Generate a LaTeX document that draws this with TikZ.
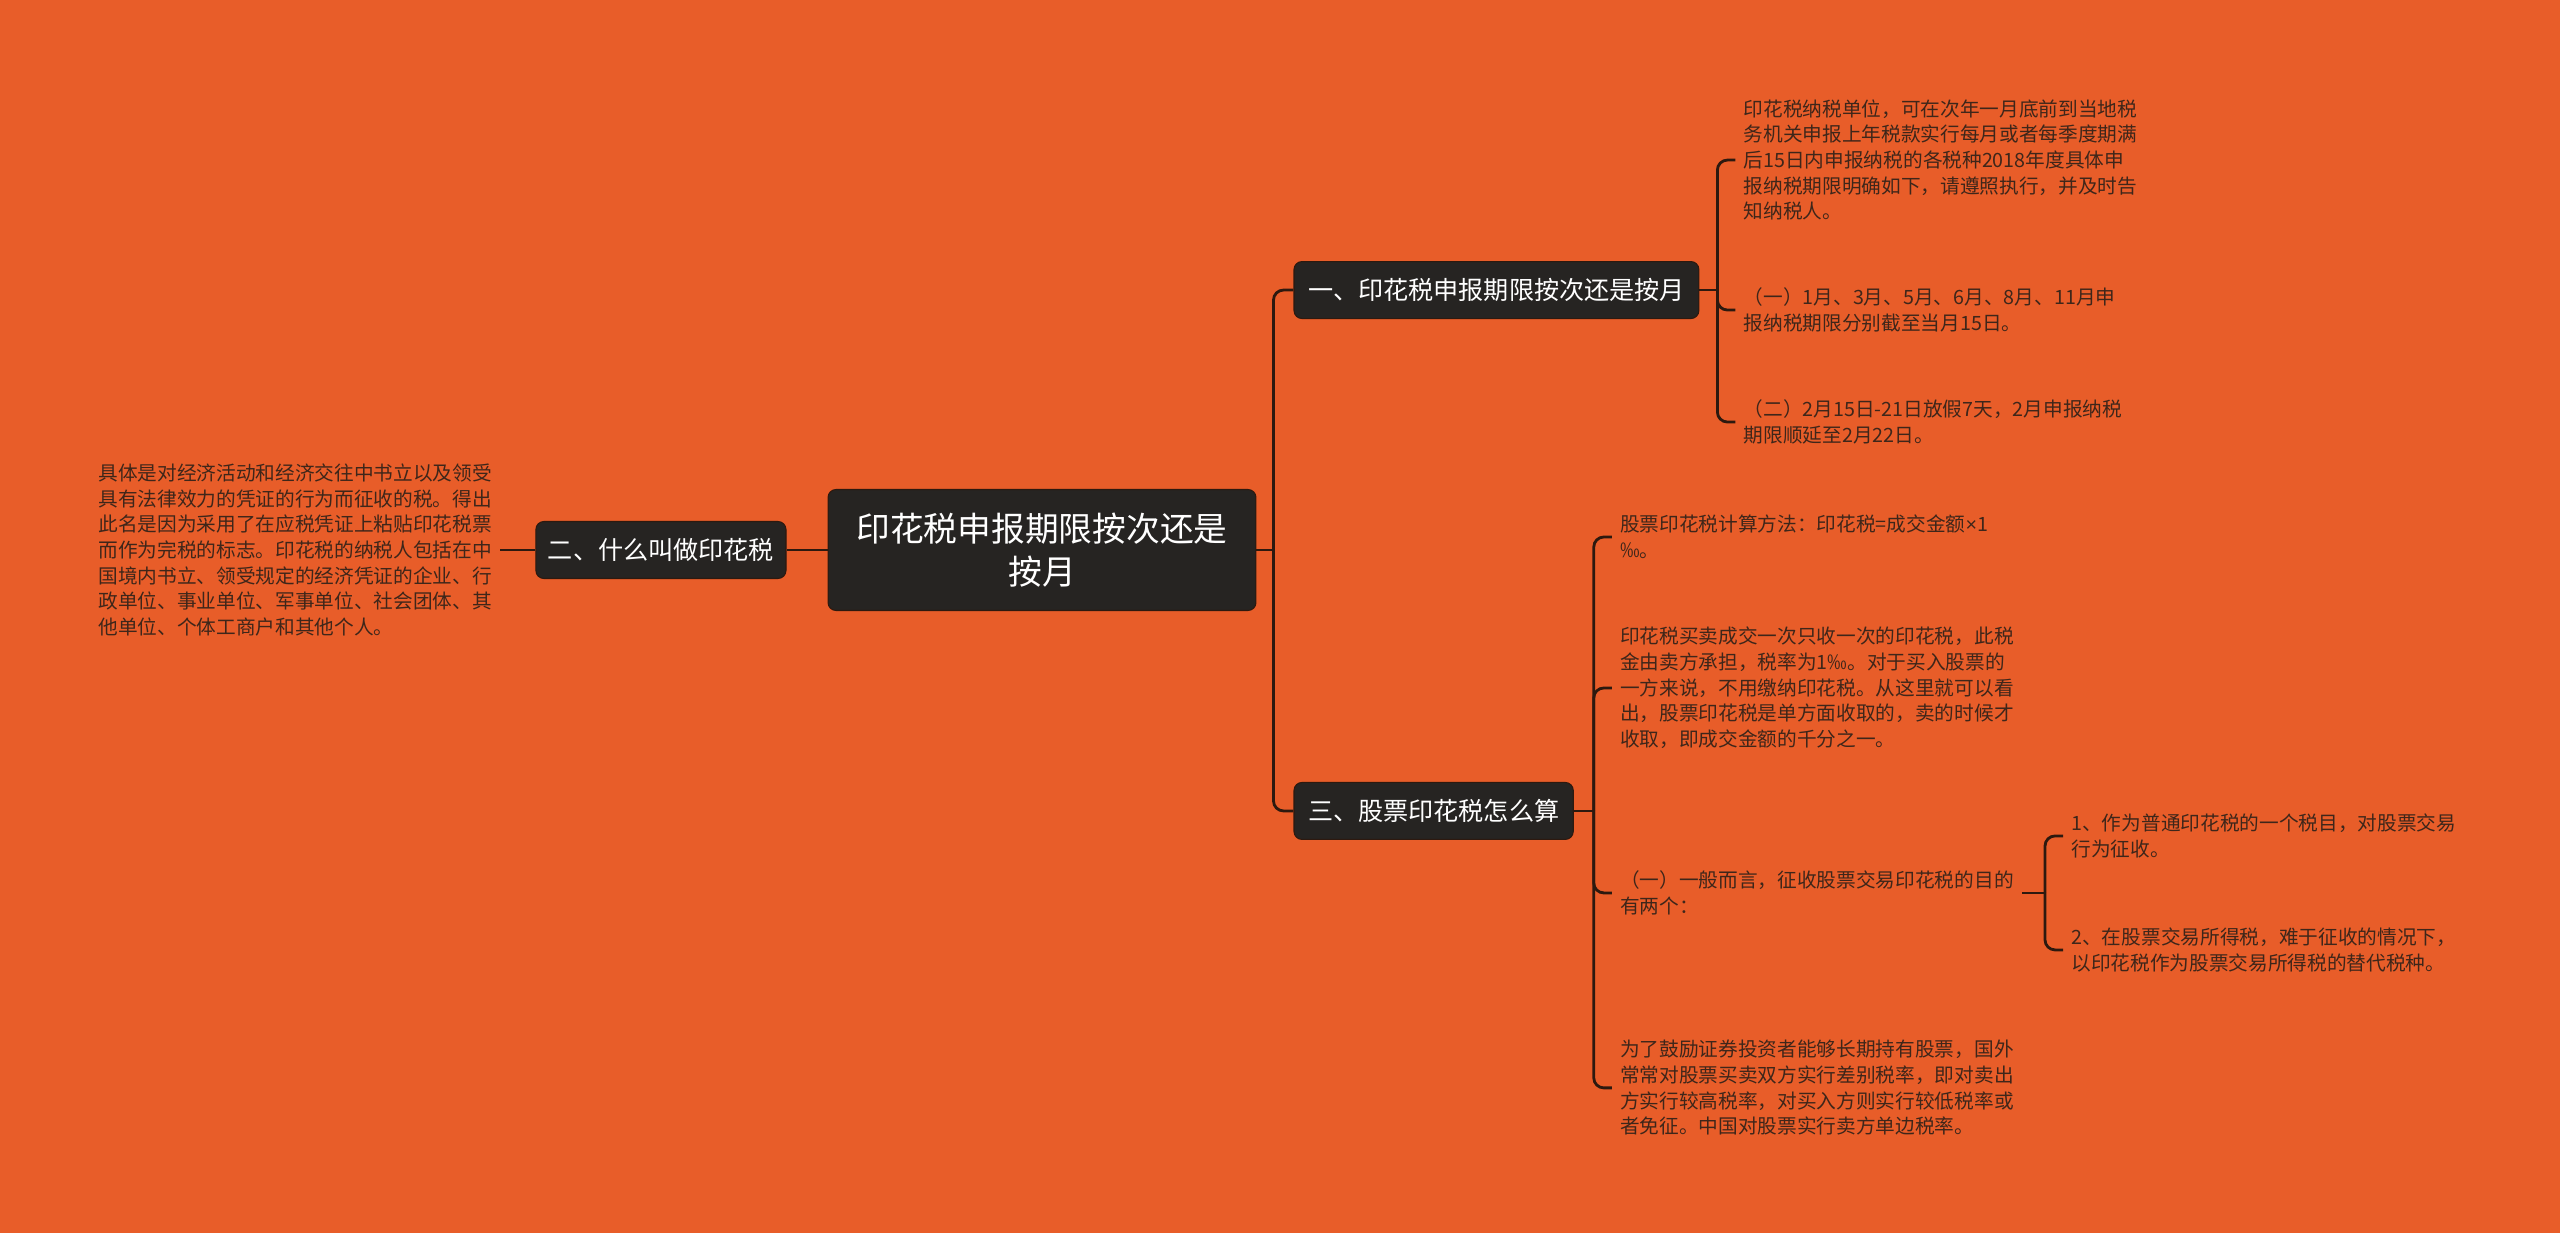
\documentclass[tikz,border=0pt]{standalone}
\usepackage{fontspec}
\setmainfont{Noto Sans CJK SC}
\newfontfamily\latinfont{Liberation Sans}
\usetikzlibrary{positioning,calc}
\definecolor{bgorange}{RGB}{232,93,41}
\definecolor{boxdark}{RGB}{38,36,34}
\definecolor{linkdark}{RGB}{45,25,15}
\definecolor{leaftext}{RGB}{62,38,26}

\begin{document}
\begin{tikzpicture}[x=0.02cm, y=-0.02cm,
    rootbox/.style={draw=linkdark, line width=0.6pt, fill=boxdark, rounded corners=0.16cm, text=white,
      align=center, minimum width=8.56cm, minimum height=2.42cm, font=\fontsize{19.2}{24.4}\selectfont},
    topic/.style={draw=linkdark, line width=0.6pt, fill=boxdark, rounded corners=0.16cm, text=white,
      inner xsep=0.28cm, minimum height=1.14cm, font=\fontsize{14.3}{17}\selectfont},
    leaf/.style={text=leaftext, align=left, inner xsep=0.16cm, inner ysep=0pt, font=\fontsize{11.2}{14.6}\selectfont},
    link/.style={linkdark, line width=1.6pt, rounded corners=0.2cm}]
    \fill[bgorange] (0,0) rectangle (2560,1233);
    \useasboundingbox (0,0) rectangle (2560,1233);
    % centre and the three topics
    \node[rootbox] (root) at (1042,550) {印花税申报期限按次还是\\按月};
    \node[topic, right=0.74cm of root, yshift=5.2cm] (b1) {一、印花税申报期限按次还是按月};
    \node[topic, left=0.82cm of root, inner xsep=0.24cm] (b2) {二、什么叫做印花税};
    \node[topic, right=0.74cm of root, yshift=-5.22cm] (b3) {三、股票印花税怎么算};
    % leaves of topic one
    \node[leaf, right=0.72cm of b1, yshift=2.6cm] (a1) {印花税纳税单位，可在次年一月底前到当地税\\务机关申报上年税款实行每月或者每季度期满\\后15日内申报纳税的各税种2018年度具体申\\报纳税期限明确如下，请遵照执行，并及时告\\知纳税人。};
    \node[leaf, right=0.72cm of b1, yshift=-0.4cm] (a2) {（一）1月、3月、5月、6月、8月、11月申\\报纳税期限分别截至当月15日。};
    \node[leaf, right=0.72cm of b1, yshift=-2.64cm] (a3) {（二）2月15日-21日放假7天，2月申报纳税\\期限顺延至2月22日。};
    % leaf of topic two
    \node[leaf, left=0.7cm of b2] (s1) {具体是对经济活动和经济交往中书立以及领受\\具有法律效力的凭证的行为而征收的税。得出\\此名是因为采用了在应税凭证上粘贴印花税票\\而作为完税的标志。印花税的纳税人包括在中\\国境内书立、领受规定的经济凭证的企业、行\\政单位、事业单位、军事单位、社会团体、其\\他单位、个体工商户和其他个人。};
    % leaves of topic three
    \node[leaf, right=0.76cm of b3, yshift=5.48cm] (c1) {股票印花税计算方法：印花税=成交金额{\latinfont ×}1\\‰。};
    \node[leaf, right=0.76cm of b3, yshift=2.46cm] (c2) {印花税买卖成交一次只收一次的印花税，此税\\金由卖方承担，税率为1‰。对于买入股票的\\一方来说，不用缴纳印花税。从这里就可以看\\出，股票印花税是单方面收取的，卖的时候才\\收取，即成交金额的千分之一。};
    \node[leaf, right=0.76cm of b3, yshift=-1.64cm] (c3) {（一）一般而言，征收股票交易印花税的目的\\有两个：};
    \node[leaf, right=0.76cm of b3, yshift=-5.54cm] (c4) {为了鼓励证券投资者能够长期持有股票，国外\\常常对股票买卖双方实行差别税率，即对卖出\\方实行较高税率，对买入方则实行较低税率或\\者免征。中国对股票实行卖方单边税率。};
    \node[leaf, right=0.82cm of c3, yshift=1.14cm] (d1) {1、作为普通印花税的一个税目，对股票交易\\行为征收。};
    \node[leaf, right=0.82cm of c3, yshift=-1.14cm] (d2) {2、在股票交易所得税，难于征收的情况下，\\以印花税作为股票交易所得税的替代税种。};
    % connectors
    \coordinate (tr) at ($(root.east)+(0.34cm,0)$);
    \draw[link] (root.east) -- (tr);
    \draw[link] (tr) |- (b1.west);
    \draw[link] (tr) |- (b3.west);
    \draw[link] (root.west) -- (b2.east);
    \draw[link] (b2.west) -- (s1.east);
    \coordinate (k1) at ($(b1.east)+(0.36cm,0)$);
    \draw[link] (b1.east) -- (k1);
    \foreach \n in {a1,a2,a3} \draw[link] (k1) |- (\n.west);
    \coordinate (k3) at ($(b3.east)+(0.4cm,0)$);
    \draw[link] (b3.east) -- (k3);
    \foreach \n in {c1,c2,c3,c4} \draw[link] (k3) |- (\n.west);
    \coordinate (kc) at ($(c3.east)+(0.46cm,0)$);
    \draw[link] (c3.east) -- (kc);
    \foreach \n in {d1,d2} \draw[link] (kc) |- (\n.west);
\end{tikzpicture}
\end{document}
